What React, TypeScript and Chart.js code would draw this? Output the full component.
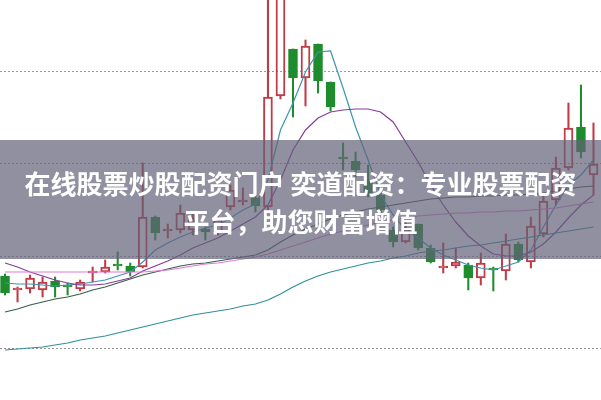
import { useEffect, useRef } from "react";
import { Chart, registerables } from "chart.js";

Chart.register(...registerables);

// Daily candles (price units)
const opens = [9.24, 9.10, 9.11, 9.10, 9.19, 9.15, 9.11, 9.27, 9.28, 9.36, 9.34, 9.33, 9.83, 9.69, 9.70, 9.70, 9.71, 9.68, 9.93, 9.98, 10.02, 9.93, 11.04, 11.51, 11.22, 11.56, 11.18, 10.43, 10.39, 10.20, 10.05, 9.70, 9.58, 9.76, 9.52, 9.32, 9.34, 9.35, 9.22, 9.32, 9.29, 9.56, 9.38, 9.66, 10.00, 10.32, 10.73, 10.25];
const highs = [9.26, 9.13, 9.25, 9.23, 9.23, 9.17, 9.20, 9.33, 9.40, 9.48, 9.37, 10.37, 9.84, 9.76, 9.95, 9.88, 9.73, 9.85, 10.15, 10.12, 10.04, 12.10, 12.40, 11.51, 11.60, 11.56, 11.18, 10.57, 10.48, 10.35, 10.08, 9.73, 9.78, 9.76, 9.55, 9.57, 9.52, 9.37, 9.47, 9.33, 9.66, 9.58, 9.83, 10.05, 10.43, 10.97, 11.15, 10.77];
const lows = [9.05, 8.98, 9.07, 9.03, 9.03, 9.05, 9.09, 9.18, 9.27, 9.30, 9.24, 9.32, 9.60, 9.62, 9.67, 9.65, 9.60, 9.65, 9.90, 9.95, 9.88, 9.90, 11.01, 10.83, 10.94, 11.07, 10.89, 10.30, 10.23, 10.03, 9.87, 9.53, 9.57, 9.50, 9.37, 9.27, 9.32, 9.10, 9.15, 9.09, 9.20, 9.38, 9.32, 9.63, 9.95, 10.30, 10.42, 10.05];
const closes = [9.07, 9.12, 9.22, 9.18, 9.13, 9.13, 9.18, 9.29, 9.33, 9.34, 9.28, 9.83, 9.67, 9.71, 9.87, 9.80, 9.68, 9.80, 10.10, 10.00, 9.94, 11.03, 12.30, 11.22, 11.54, 11.19, 10.93, 10.41, 10.30, 10.07, 9.90, 9.58, 9.70, 9.52, 9.38, 9.34, 9.38, 9.22, 9.37, 9.30, 9.56, 9.40, 9.74, 9.99, 10.32, 10.72, 10.48, 10.36];

// Moving-average lines
const ma5 = [9.17, 9.16, 9.16, 9.15, 9.14, 9.15, 9.16, 9.18, 9.20, 9.24, 9.28, 9.38, 9.50, 9.57, 9.63, 9.68, 9.72, 9.75, 9.82, 9.90, 9.96, 10.20, 10.70, 10.97, 11.28, 11.48, 11.49, 11.12, 10.73, 10.40, 10.05, 9.85, 9.70, 9.62, 9.52, 9.45, 9.40, 9.35, 9.32, 9.30, 9.34, 9.38, 9.50, 9.73, 9.95, 10.15, 10.25, 10.40];
const ma10 = [9.37, 9.33, 9.28, 9.24, 9.20, 9.17, 9.15, 9.15, 9.16, 9.19, 9.22, 9.29, 9.34, 9.39, 9.45, 9.52, 9.57, 9.62, 9.69, 9.76, 9.83, 9.95, 10.20, 10.50, 10.70, 10.82, 10.88, 10.90, 10.91, 10.91, 10.88, 10.78, 10.58, 10.38, 10.15, 9.95, 9.78, 9.64, 9.54, 9.46, 9.44, 9.44, 9.48, 9.56, 9.68, 9.82, 9.95, 10.05];
const ma20 = [8.88, 8.91, 8.95, 8.98, 9.01, 9.03, 9.06, 9.10, 9.13, 9.17, 9.21, 9.25, 9.28, 9.31, 9.34, 9.36, 9.37, 9.39, 9.41, 9.43, 9.45, 9.50, 9.58, 9.65, 9.71, 9.76, 9.81, 9.85, 9.88, 9.91, 9.93, 9.95, 9.97, 9.99, 10.01, 10.02, 10.03, 10.03, 10.04, 10.04, 10.05, 10.05, 10.06, 10.07, 10.09, 10.11, 10.13, 10.14];
const ma30 = [9.28, 9.28, 9.28, 9.28, 9.28, 9.28, 9.28, 9.28, 9.28, 9.28, 9.28, 9.28, 9.29, 9.30, 9.32, 9.34, 9.36, 9.37, 9.39, 9.41, 9.43, 9.46, 9.50, 9.54, 9.58, 9.62, 9.66, 9.69, 9.72, 9.75, 9.78, 9.80, 9.82, 9.84, 9.85, 9.86, 9.87, 9.87, 9.88, 9.88, 9.89, 9.89, 9.90, 9.91, 9.92, 9.94, 9.96, 9.98];
const ma60 = [8.50, 8.51, 8.52, 8.53, 8.55, 8.57, 8.60, 8.62, 8.64, 8.67, 8.70, 8.73, 8.76, 8.79, 8.82, 8.85, 8.87, 8.89, 8.91, 8.94, 8.96, 9.00, 9.06, 9.13, 9.19, 9.24, 9.28, 9.31, 9.34, 9.37, 9.39, 9.42, 9.44, 9.47, 9.49, 9.50, 9.52, 9.54, 9.55, 9.57, 9.59, 9.61, 9.63, 9.65, 9.67, 9.69, 9.71, 9.73];

// Dotted price grid levels
const gridLevels = [8.52, 9.44, 10.37, 11.29];

const bannerLines = ["在线股票炒股配资门户 奕道配资：专业股票配资", "平台，助您财富增值"];

const RED = "#c23a45";
const GREEN = "#1e8c2c";

export default function App() {
  const ref = useRef<HTMLCanvasElement | null>(null);

  useEffect(() => {
    const canvas = ref.current;
    if (!canvas) return;
    const up = closes.map((c, i) => c >= opens[i]);
    const colors = up.map((u) => (u ? RED : GREEN));
    const line = (values: number[], color: string) => ({
      type: "line" as const,
      data: values.map((v, i) => ({ x: i, y: v })),
      borderColor: color,
      borderWidth: 1.2,
      pointRadius: 0,
      tension: 0,
      fill: false,
      order: 0,
    });
    const chart = new Chart(canvas, {
      type: "bar",
      data: {
        datasets: [
          line(ma60, "#2f8f9c"),
          line(ma30, "#e07ad6"),
          line(ma20, "#3b5c4a"),
          line(ma10, "#873c98"),
          line(ma5, "#3a95b2"),
          {
            type: "bar",
            data: opens.map((o, i) => ({ x: i, y: [o, closes[i]] })),
            backgroundColor: up.map((u) => (u ? "rgba(255,255,255,0)" : GREEN)),
            borderColor: colors,
            borderWidth: 1.3,
            borderSkipped: false,
            barThickness: 9,
            grouped: false,
            order: 1,
          } as any,
          {
            type: "bar",
            data: highs.map((h, i) => ({ x: i, y: [Math.max(opens[i], closes[i]), h] })),
            backgroundColor: colors,
            borderWidth: 0,
            barThickness: 1.4,
            grouped: false,
            order: 2,
          } as any,
          {
            type: "bar",
            data: lows.map((l, i) => ({ x: i, y: [l, Math.min(opens[i], closes[i])] })),
            backgroundColor: colors,
            borderWidth: 0,
            barThickness: 1.4,
            grouped: false,
            order: 2,
          } as any,
        ],
      },
      options: {
        animation: false,
        responsive: false,
        devicePixelRatio: 1,
        layout: { padding: 0 },
        plugins: { legend: { display: false }, tooltip: { enabled: false } },
        scales: {
          x: {
            type: "linear",
            min: -0.4,
            max: 47.6,
            offset: false,
            display: false,
          },
          y: {
            type: "linear",
            min: 8,
            max: 12,
            beginAtZero: false,
            border: { display: false, dash: [2, 2] },
            ticks: { display: false },
            grid: { color: "#9a9a9a", drawTicks: false, lineWidth: 1 },
            afterBuildTicks: (scale: any) => {
              scale.ticks = gridLevels.map((v) => ({ value: v }));
            },
          },
        },
      } as any,
    });
    return () => chart.destroy();
  }, []);

  return (
    <div
      style={{
        position: "absolute",
        left: 0,
        top: 0,
        width: 601,
        height: 400,
        overflow: "hidden",
        background: "#ffffff",
      }}
    >
      <canvas ref={ref} width={601} height={400} style={{ position: "absolute", left: 0, top: 0, width: 601, height: 400 }} />
      <div
        style={{
          position: "absolute",
          left: 0,
          top: 140,
          width: 601,
          height: 119,
          boxSizing: "border-box",
          paddingTop: 24,
          background: "rgba(98,97,119,0.7)",
          color: "#ffffff",
          fontFamily: '"Noto Sans CJK SC", "Noto Sans", sans-serif',
          fontWeight: 700,
          fontSize: 26,
          lineHeight: "38px",
          textAlign: "center",
          whiteSpace: "nowrap",
        }}
      >
        {bannerLines.map((t) => (
          <div key={t}>{t}</div>
        ))}
      </div>
    </div>
  );
}
